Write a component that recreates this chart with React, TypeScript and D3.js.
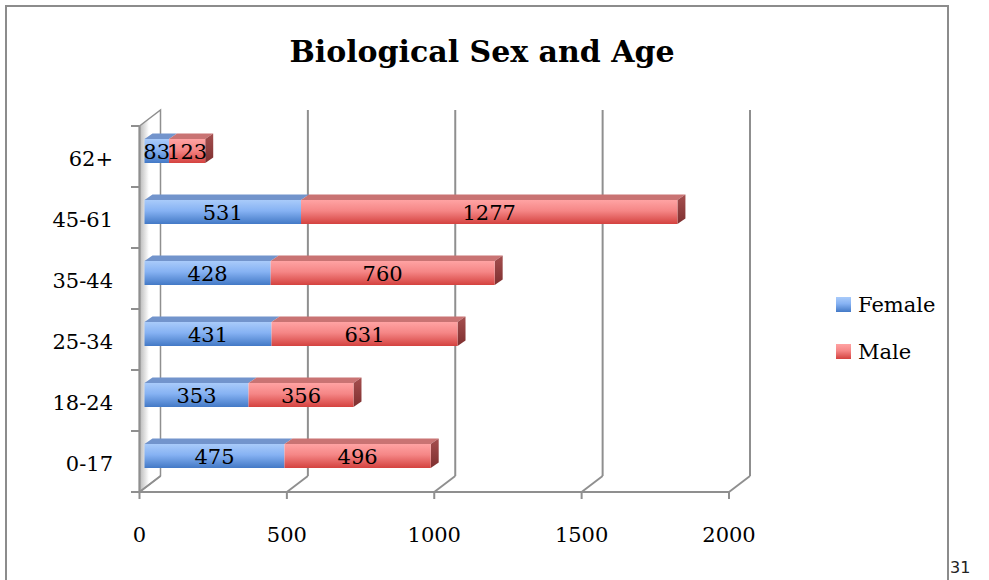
import React from "react";
import * as d3 from "d3";

const categories = ["0-17", "18-24", "25-34", "35-44", "45-61", "62+"];
const female = [475, 353, 431, 428, 531, 83];
const male = [496, 356, 631, 760, 1277, 123];
const xTicks = [0, 500, 1000, 1500, 2000];
const seriesNames = ["Female", "Male"];
const title = "Biological Sex and Age";

const W = 989;
const H = 580;
const FONT = "'DejaVu Serif', serif";

export default function App() {
  const x = d3.scaleLinear().domain([0, 2000]).range([139.5, 729]);
  const y = d3
    .scaleBand<string>()
    .domain([...categories].reverse())
    .range([126, 492]);
  const depth = { dx: 21, dy: -16 };
  const face = { dx: 5, dy: -4 };
  const side = { dx: 8, dy: -5.5 };
  const barH = 24;
  const grid = "#8f8f8f";

  const bars: any[] = [];
  categories.forEach((c, i) => {
    const cy = (y(c) as number) + y.bandwidth() / 2 - 1.5;
    const y0 = cy - barH / 2 + face.dy;
    const y1 = y0 + barH;
    const segs = [
      { s: 0, a: 0, b: female[i], v: female[i] },
      { s: 1, a: female[i], b: female[i] + male[i], v: male[i] },
    ];
    segs.forEach((sg) => {
      const xa = x(sg.a) + face.dx;
      const xb = x(sg.b) + face.dx;
      bars.push({ ...sg, c, xa, xb, y0, y1, last: sg.s === 1 });
    });
  });

  const pts = (arr: number[][]) => arr.map((p) => p.join(",")).join(" ");

  return (
    <svg
      width={W}
      height={H}
      style={{ position: "absolute", left: 0, top: 0, background: "#fff" }}
      fontFamily={FONT}
    >
      <defs>
        <linearGradient id="gF" x1="0" y1="0" x2="0" y2="1">
          <stop offset="0" stopColor="#a9cbfa" />
          <stop offset="0.45" stopColor="#86b2f3" />
          <stop offset="1" stopColor="#4379c6" />
        </linearGradient>
        <linearGradient id="gM" x1="0" y1="0" x2="0" y2="1">
          <stop offset="0" stopColor="#ffa3a3" />
          <stop offset="0.45" stopColor="#f58686" />
          <stop offset="1" stopColor="#d4423f" />
        </linearGradient>
        <linearGradient id="gMs" x1="0" y1="0" x2="0" y2="1">
          <stop offset="0" stopColor="#a54f4f" />
          <stop offset="1" stopColor="#7e2f2f" />
        </linearGradient>
        <linearGradient id="gWall" x1="0" y1="0" x2="1" y2="0">
          <stop offset="0" stopColor="#b8b8b8" />
          <stop offset="0.45" stopColor="#ffffff" />
          <stop offset="1" stopColor="#ffffff" />
        </linearGradient>
      </defs>

      {/* outer frame */}
      <rect x={6} y={6} width={942} height={600} fill="none" stroke="#8c8c8c" strokeWidth={2} />
      <text x={950} y={573} fontFamily="'DejaVu Sans', sans-serif" fontSize={16} fill="#222">
        31
      </text>

      {/* title */}
      <text x={482} y={62} textAnchor="middle" fontSize={30} fontWeight="bold" fill="#000">
        {title}
      </text>

      {/* left wall */}
      <polygon
        points={pts([
          [x(0), 126],
          [x(0) + depth.dx, 126 + depth.dy],
          [x(0) + depth.dx, 492 + depth.dy],
          [x(0), 492],
        ])}
        fill="url(#gWall)"
        stroke={grid}
        strokeWidth={1.5}
      />

      {/* back gridlines and floor diagonals */}
      {xTicks.map((t) => (
        <g key={"g" + t}>
          {t > 0 && (
            <line
              x1={x(t) + depth.dx}
              x2={x(t) + depth.dx}
              y1={126 + depth.dy}
              y2={492 + depth.dy}
              stroke={grid}
              strokeWidth={2}
            />
          )}
          <line
            x1={x(t)}
            y1={492}
            x2={x(t) + depth.dx}
            y2={492 + depth.dy}
            stroke={grid}
            strokeWidth={2}
          />
        </g>
      ))}

      {/* bars */}
      {bars.map((b, i) => {
        const topFill = b.s === 0 ? "#7294cc" : "#c97373";
        return (
          <g key={"b" + i}>
            <polygon
              points={pts([
                [b.xa, b.y0],
                [b.xa + side.dx, b.y0 + side.dy],
                [b.xb + side.dx, b.y0 + side.dy],
                [b.xb, b.y0],
              ])}
              fill={topFill}
            />
            {b.last && (
              <polygon
                points={pts([
                  [b.xb, b.y0],
                  [b.xb + side.dx, b.y0 + side.dy],
                  [b.xb + side.dx, b.y1 + side.dy],
                  [b.xb, b.y1],
                ])}
                fill="url(#gMs)"
              />
            )}
            <rect
              x={b.xa}
              y={b.y0}
              width={b.xb - b.xa}
              height={b.y1 - b.y0}
              fill={b.s === 0 ? "url(#gF)" : "url(#gM)"}
            />
          </g>
        );
      })}
      {bars.map((b, i) => (
        <text
          key={"l" + i}
          x={(b.xa + b.xb) / 2}
          y={(b.y0 + b.y1) / 2 + 7.5}
          textAnchor="middle"
          fontSize={21}
          fill="#000"
        >
          {b.v}
        </text>
      ))}

      {/* category axis */}
      <line x1={x(0)} x2={x(0)} y1={126} y2={492} stroke={grid} strokeWidth={2} />
      {[...y.domain(), "end"].map((c, i) => {
        const yy = i < categories.length ? (y(c) as number) : 492;
        return <line key={"t" + i} x1={131} x2={x(0)} y1={yy} y2={yy} stroke={grid} strokeWidth={2} />;
      })}
      {categories.map((c) => (
        <text
          key={"c" + c}
          x={113}
          y={(y(c) as number) + y.bandwidth() / 2 + 9}
          textAnchor="end"
          fontSize={21}
          fill="#000"
        >
          {c}
        </text>
      ))}

      {/* value axis */}
      <line x1={131} x2={x(2000)} y1={492} y2={492} stroke={grid} strokeWidth={2} />
      {xTicks.map((t) => (
        <g key={"x" + t}>
          <line x1={x(t)} x2={x(t)} y1={492} y2={499} stroke={grid} strokeWidth={2} />
          <text x={x(t)} y={542} textAnchor="middle" fontSize={21} fill="#000">
            {t}
          </text>
        </g>
      ))}

      {/* legend */}
      {seriesNames.map((s, i) => (
        <g key={"lg" + s} transform={`translate(836,${297 + i * 47})`}>
          <rect width={15} height={15} fill={i === 0 ? "url(#gF)" : "url(#gM)"} />
          <text x={22} y={15} fontSize={21} fill="#000">
            {s}
          </text>
        </g>
      ))}
    </svg>
  );
}
